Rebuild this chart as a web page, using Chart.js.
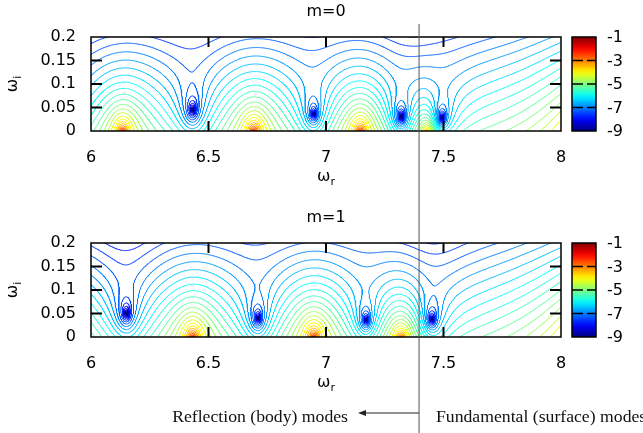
<!DOCTYPE html>
<html>
<head>
<meta charset="utf-8">
<script src="https://cdn.jsdelivr.net/npm/chart.js@4.4.1/dist/chart.umd.min.js"></script>
<style>
  html, body { margin: 0; padding: 0; background: #fff; }
  body { width: 643px; height: 433px; position: relative; overflow: hidden; }
  canvas { position: absolute; left: 0; }
</style>
</head>
<body>
<canvas id="plot-m0" width="643" height="200" style="top:0"></canvas>
<canvas id="plot-m1" width="643" height="233" style="top:200px"></canvas>
<script>
// axes
const xTicks = [6, 6.5, 7, 7.5, 8];
const yTicks = [0, 0.05, 0.1, 0.15, 0.2];
const cbTicks = [-1, -3, -5, -7, -9];
const cbMin = -9, cbMax = -1;
const levelStep = 0.25;
const lowestLevel = -10.5;

// minima (blue spots) and maxima (red spots on the real axis), [omega_r, omega_i, weight]
const zerosM0 = [[5.86, 0.045, 0.9], [6.432, 0.045, 0.9], [6.947, 0.036, 0.9], [7.32, 0.030, 1.1], [7.493, 0.028, 1.1], [7.37, 0.30, 0.5]];
const peaksM0 = [[6.134, -0.005, 1], [6.692, -0.005, 1], [7.146, -0.005, 1], [7.43, -0.007, 1]];
const zerosM1 = [[6.15, 0.050, 0.9], [6.71, 0.040, 0.9], [7.17, 0.036, 0.95], [7.45, 0.038, 0.95], [6.14, 0.30, 0.4], [7.45, 0.30, 0.5]];
const peaksM1 = [[5.87, -0.005, 1], [6.432, -0.005, 1], [6.947, -0.005, 1], [7.32, -0.007, 1]];
// broad rise towards the lower right corner
const sourceM0 = [8.2, -0.05, 2];
const sourceM1 = [8.2, -0.05, 2];
// value of the top contour
const anchorM0 = [6.69, 0.2, -7.3];
const anchorM1 = [6.43, 0.2, -7.3];
const modeBoundary = 7.396;

const RZ = 0.17, RP = 0.3, RS = 0.5, AY = -10;

Chart.defaults.font.family = 'DejaVu Sans';
Chart.defaults.color = '#000';

function jet(t) {
  t = Math.max(0, Math.min(1, t));
  const c = v => Math.round(255 * Math.max(0, Math.min(1, v)));
  return 'rgb(' + c(1.5 - Math.abs(4 * t - 3)) + ',' + c(1.5 - Math.abs(4 * t - 2)) + ',' + c(1.5 - Math.abs(4 * t - 1)) + ')';
}

const levels = [];
for (let L = lowestLevel; L <= cbMax + 1e-9; L += levelStep) levels.push(+L.toFixed(3));

function localLog(x, y, cx, cy, rr) {
  const d2 = (x - cx) * (x - cx) + (y - cy) * (y - cy);
  return 0.5 * Math.log(d2 / (d2 + rr * rr));
}

function rawField(x, y, zeros, peaks, src) {
  let s = AY * y;
  for (const [zx, zy, w] of zeros) s += w * localLog(x, y, zx, zy, RZ);
  for (const [px, py, w] of peaks) s -= w * localLog(x, y, px, py, RP);
  s -= src[2] * localLog(x, y, src[0], src[1], RS);
  return s;
}

// marching squares, segments chained into polylines
function traceLevel(F, nx, ny, xs, ys, L) {
  const H = nx * ny;
  const pts = new Map();
  const segs = [];
  function cut(key, xa, ya, va, xb, yb, vb) {
    if (!pts.has(key)) {
      const t = (L - va) / (vb - va);
      pts.set(key, { x: xa + t * (xb - xa), y: ya + t * (yb - ya) });
    }
    return key;
  }
  for (let j = 0; j < ny - 1; j++) {
    for (let i = 0; i < nx - 1; i++) {
      const v0 = F[j * nx + i], v1 = F[j * nx + i + 1], v2 = F[(j + 1) * nx + i + 1], v3 = F[(j + 1) * nx + i];
      const b0 = v0 > L, b1 = v1 > L, b2 = v2 > L, b3 = v3 > L;
      if (b0 === b1 && b1 === b2 && b2 === b3) continue;
      const xa = xs[i], xb = xs[i + 1], ya = ys[j], yb = ys[j + 1];
      const e = [];
      let bottom, right, top, left;
      if (b0 !== b1) { bottom = cut(j * nx + i, xa, ya, v0, xb, ya, v1); e.push(bottom); }
      if (b1 !== b2) { right = cut(H + j * nx + i + 1, xb, ya, v1, xb, yb, v2); e.push(right); }
      if (b3 !== b2) { top = cut((j + 1) * nx + i, xa, yb, v3, xb, yb, v2); e.push(top); }
      if (b0 !== b3) { left = cut(H + j * nx + i, xa, ya, v0, xa, yb, v3); e.push(left); }
      if (e.length === 2) segs.push([e[0], e[1]]);
      else if (e.length === 4) {
        const centerHigh = (v0 + v1 + v2 + v3) / 4 > L;
        if (centerHigh === b0) { segs.push([bottom, right]); segs.push([top, left]); }
        else { segs.push([left, bottom]); segs.push([right, top]); }
      }
    }
  }
  const adj = new Map();
  segs.forEach((s, id) => {
    for (const k of s) {
      if (!adj.has(k)) adj.set(k, []);
      adj.get(k).push(id);
    }
  });
  const used = new Uint8Array(segs.length);
  const out = [];
  function walk(start) {
    let k = start;
    out.push(pts.get(k));
    while (true) {
      const list = adj.get(k);
      let s = -1;
      for (const id of list) if (!used[id]) { s = id; break; }
      if (s < 0) break;
      used[s] = 1;
      k = segs[s][0] === k ? segs[s][1] : segs[s][0];
      out.push(pts.get(k));
    }
    out.push({ x: null, y: null });
  }
  for (const [k, list] of adj) if (list.length === 1 && !used[list[0]]) walk(k);
  for (let s = 0; s < segs.length; s++) if (!used[s]) walk(segs[s][0]);
  return out;
}

function contourDatasets(zeros, peaks, src, anchor) {
  const nx = 817, ny = 209;
  const xs = [], ys = [];
  for (let i = 0; i < nx; i++) xs.push(5.98 + i * 0.0025);
  for (let j = 0; j < ny; j++) ys.push(-0.004 + j * 0.001);
  const C = anchor[2] - rawField(anchor[0], anchor[1], zeros, peaks, src);
  const F = new Float64Array(nx * ny);
  for (let j = 0; j < ny; j++)
    for (let i = 0; i < nx; i++)
      F[j * nx + i] = Math.max(-13, Math.min(2, C + rawField(xs[i], ys[j], zeros, peaks, src)));
  return levels.map(L => ({
    data: traceLevel(F, nx, ny, xs, ys, L),
    borderColor: jet((L - cbMin) / (cbMax - cbMin)),
    borderWidth: 1,
    pointRadius: 0,
    showLine: true,
    fill: false,
    tension: 0
  }));
}

function line(ctx, x1, y1, x2, y2) {
  ctx.beginPath(); ctx.moveTo(x1, y1); ctx.lineTo(x2, y2); ctx.stroke();
}

function subText(ctx, main, sub, x, y, size) {
  ctx.font = size + 'px "DejaVu Sans"';
  const w1 = ctx.measureText(main).width;
  ctx.font = Math.round(size * 0.7) + 'px "DejaVu Sans"';
  const w2 = ctx.measureText(sub).width;
  const x0 = x - (w1 + w2) / 2;
  ctx.font = size + 'px "DejaVu Sans"';
  ctx.fillText(main, x0, y);
  ctx.font = Math.round(size * 0.7) + 'px "DejaVu Sans"';
  ctx.fillText(sub, x0 + w1, y + 4);
}

const decorations = {
  id: 'decorations',
  afterDatasetsDraw(chart, args, o) {
    const { ctx, chartArea: a, scales: { x, y } } = chart;
    ctx.save();
    ctx.fillStyle = '#000';
    ctx.strokeStyle = '#000';
    ctx.textAlign = 'left';
    ctx.textBaseline = 'alphabetic';

    // frame and inward ticks
    ctx.lineWidth = 1.5;
    ctx.strokeRect(a.left, a.top, a.width, a.height);
    ctx.lineWidth = 2;
    xTicks.slice(1, -1).forEach(v => {
      const px = x.getPixelForValue(v);
      line(ctx, px, a.bottom, px, a.bottom - 10);
      line(ctx, px, a.top, px, a.top + 10);
    });
    yTicks.slice(1, -1).forEach(v => {
      const py = y.getPixelForValue(v);
      line(ctx, a.left, py, a.left + 11, py);
      line(ctx, a.right, py, a.right - 11, py);
    });

    // title and axis titles
    ctx.font = '16px "DejaVu Sans"';
    ctx.textAlign = 'center';
    ctx.fillText(o.title, (a.left + a.right) / 2, o.titleY);
    ctx.textAlign = 'left';
    subText(ctx, 'ω', 'r', (a.left + a.right) / 2, a.bottom + 50, 16);
    ctx.save();
    ctx.translate(12, (a.top + a.bottom) / 2);
    ctx.rotate(-Math.PI / 2);
    subText(ctx, 'ω', 'i', 0, 5, 16);
    ctx.restore();

    // colour bar
    const cx = a.right + 11, cw = 24;
    const g = ctx.createLinearGradient(0, a.bottom, 0, a.top);
    for (let t = 0; t <= 1.0001; t += 0.05) g.addColorStop(Math.min(1, t), jet(t));
    ctx.fillStyle = g;
    ctx.fillRect(cx, a.top, cw, a.height);
    ctx.lineWidth = 1.5;
    ctx.strokeStyle = '#000';
    ctx.strokeRect(cx, a.top, cw, a.height);
    ctx.fillStyle = '#000';
    ctx.font = '16px "DejaVu Sans"';
    ctx.textBaseline = 'middle';
    cbTicks.forEach(v => {
      const py = a.bottom - (v - cbMin) / (cbMax - cbMin) * a.height;
      if (v !== cbMin && v !== cbMax) {
        line(ctx, cx, py, cx + 11, py);
        line(ctx, cx + cw - 9, py, cx + cw, py);
      }
      ctx.fillText(String(v), cx + cw + 11, py + 1);
    });
    ctx.textBaseline = 'alphabetic';

    // annotation under the lower panel
    const bx = x.getPixelForValue(modeBoundary);
    if (o.notes) {
      ctx.font = '17.7px "Liberation Serif"';
      ctx.fillStyle = '#111';
      ctx.textAlign = 'right';
      ctx.fillText('Reflection (body) modes', 348, a.bottom + 85);
      ctx.textAlign = 'left';
      ctx.fillText('Fundamental (surface) modes', 436, a.bottom + 85);
      ctx.strokeStyle = '#222';
      ctx.lineWidth = 1;
      line(ctx, bx, a.bottom + 76, 364, a.bottom + 76);
      ctx.fillStyle = '#222';
      ctx.beginPath();
      ctx.moveTo(358, a.bottom + 76);
      ctx.lineTo(366, a.bottom + 73);
      ctx.lineTo(366, a.bottom + 79);
      ctx.closePath();
      ctx.fill();
    }

    // fundamental / body mode boundary
    ctx.strokeStyle = '#555';
    ctx.lineWidth = 1;
    line(ctx, bx, o.lineTop, bx, chart.height);
    ctx.restore();
  }
};

function drawPanel(id, zeros, peaks, src, anchor, o) {
  const canvas = document.getElementById(id);
  const H = canvas.height;
  new Chart(canvas.getContext('2d'), {
    type: 'scatter',
    data: { datasets: contourDatasets(zeros, peaks, src, anchor) },
    options: {
      responsive: false,
      animation: false,
      events: [],
      layout: { padding: { left: 0, top: o.top, right: 82, bottom: 0 } },
      plugins: { legend: { display: false }, tooltip: { enabled: false }, decorations: o },
      scales: {
        x: {
          type: 'linear', min: 6, max: 8,
          afterBuildTicks: s => { s.ticks = xTicks.map(v => ({ value: v })); },
          afterFit: s => { s.height = H - o.bottom; },
          ticks: { padding: 17, maxRotation: 0, font: { size: 16 }, callback: v => String(v) },
          grid: { display: false, drawTicks: false },
          border: { display: false }
        },
        y: {
          type: 'linear', min: 0, max: 0.2,
          afterBuildTicks: s => { s.ticks = yTicks.map(v => ({ value: v })); },
          afterFit: s => { s.width = 91; },
          ticks: { padding: 15, font: { size: 16 }, callback: v => String(v) },
          grid: { display: false, drawTicks: false },
          border: { display: false }
        }
      }
    },
    plugins: [decorations]
  });
}

drawPanel('plot-m0', zerosM0, peaksM0, sourceM0, anchorM0, { title: 'm=0', titleY: 16, top: 37, bottom: 131, lineTop: 24, notes: false });
drawPanel('plot-m1', zerosM1, peaksM1, sourceM1, anchorM1, { title: 'm=1', titleY: 22, top: 43, bottom: 137, lineTop: 0, notes: true });
</script>
</body>
</html>
